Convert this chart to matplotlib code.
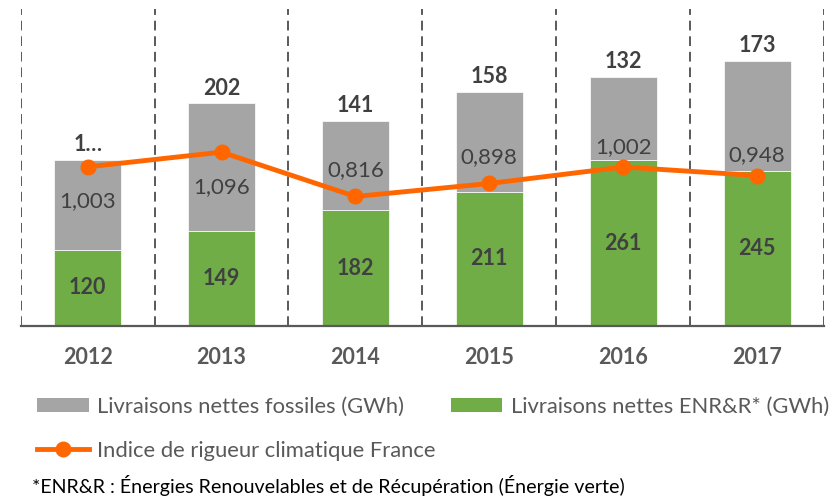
import matplotlib
matplotlib.use('Agg')
import matplotlib.pyplot as plt
from matplotlib.patches import Patch
from matplotlib.lines import Line2D

plt.rcParams['font.family'] = ['Lato', 'DejaVu Sans']

# data
years = ['2012', '2013', '2014', '2015', '2016', '2017']
fossiles = [142, 202, 141, 158, 132, 173]
enr = [120, 149, 182, 211, 261, 245]
indice = [1.003, 1.096, 0.816, 0.898, 1.002, 0.948]
# 2012 top label is cut off in the original
fossiles_labels = ['1…', '202', '141', '158', '132', '173']

# styling
grey = '#A5A5A5'
green = '#70AD47'
orange = '#FF6600'
dark = '#404040'
mid = '#595959'
# vertical offset (points) of the index labels, negative = below point
indice_offset = [-25, -25, 19, 19, 14, 15]

fig = plt.figure(figsize=(8.38, 4.97), dpi=100)
ax = fig.add_axes([0.0247, 0.3447, 0.9586, 0.6372])
x = list(range(len(years)))

ax.bar(x, enr, width=0.5, color=green, edgecolor='white', linewidth=0.5, zorder=2)
ax.bar(x, fossiles, width=0.5, bottom=enr, color=grey, edgecolor='white', linewidth=0.5, zorder=2)

ax.set_xlim(-0.5, len(years) - 0.5)
ax.set_ylim(0, 500)

# dashed separators between categories
for i in range(len(years) + 1):
    ax.axvline(i - 0.5, color=mid, linewidth=1.4, linestyle=(0, (5, 3)), zorder=1)

for s in ['top', 'right', 'left']:
    ax.spines[s].set_visible(False)
ax.spines['bottom'].set_color(mid)
ax.spines['bottom'].set_linewidth(1.6)
ax.set_yticks([])
ax.set_xticks(x)
ax.set_xticklabels(years, fontsize=15.5, fontweight='bold', color=mid)
ax.tick_params(axis='x', length=0, pad=15)

# value labels
for i in x:
    ax.text(i, enr[i] / 2, str(enr[i]), ha='center', va='center',
            fontsize=15.5, fontweight='bold', color=dark, zorder=5)
    ax.annotate(fossiles_labels[i], (i, enr[i] + fossiles[i]), xytext=(0, 11),
                textcoords='offset points', ha='center', va='center',
                fontsize=15.5, fontweight='bold', color=dark)

# climate index on secondary axis
ax2 = ax.twinx()
ax2.set_ylim(0, 2)
ax2.axis('off')
ax2.plot(x, indice, color=orange, linewidth=3.5, marker='o', markersize=10.5, zorder=4)
for i in x:
    ax2.annotate(f'{indice[i]:.3f}'.replace('.', ','), (i, indice[i]),
                 xytext=(0, indice_offset[i]), textcoords='offset points',
                 ha='center', va='center', fontsize=16, color=dark)

# legend
handles = [
    Patch(facecolor=grey, label='Livraisons nettes fossiles (GWh)'),
    Line2D([0], [0], color=orange, linewidth=3.5, marker='o', markersize=10.5,
           label='Indice de rigueur climatique France'),
    Patch(facecolor=green, label='Livraisons nettes ENR&R* (GWh)'),
]
leg = fig.legend(handles=handles, ncol=2, loc='upper left',
                 bbox_to_anchor=(37 / 838, 1 - 397 / 497), frameon=False,
                 fontsize=15.8, handlelength=2.35, handleheight=0.6,
                 handletextpad=0.4, columnspacing=0.68, labelspacing=1.08,
                 borderpad=0, borderaxespad=0)
for t in leg.get_texts():
    t.set_color(mid)

fig.text(32 / 838, 1 - 486 / 497,
         '*ENR&R : Énergies Renouvelables et de Récupération (Énergie verte)',
         fontsize=14.1, color='black', va='center', ha='left')

fig.savefig('out.png', dpi=100)
